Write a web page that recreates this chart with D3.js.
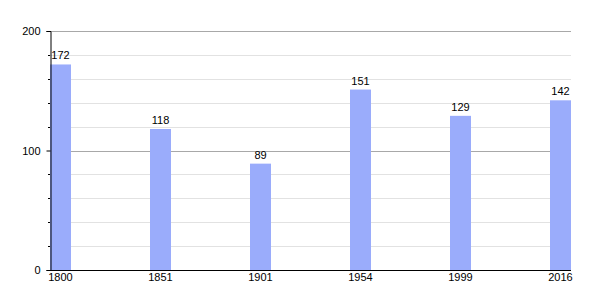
<!DOCTYPE html>
<html>
<head>
<meta charset="utf-8">
<script src="https://cdn.jsdelivr.net/npm/d3@7"></script>
<style>
  body { margin: 0; background: #fff; }
  text { font-family: "Liberation Sans", Arial, sans-serif; font-size: 11px; fill: #000; }
</style>
</head>
<body>
<svg id="chart" width="600" height="300"></svg>
<script>
// Population by census year
const years = ["1800", "1851", "1901", "1954", "1999", "2016"];
const population = [172, 118, 89, 151, 129, 142];
const majorTicks = [0, 100, 200];
const minorTicks = [20, 40, 60, 80, 120, 140, 160, 180];

const plotLeft = 50, plotRight = 571, plotTop = 31, plotBottom = 270;
const barWidth = 21;

const svg = d3.select("#chart");

const x = d3.scalePoint()
  .domain(years)
  .range([plotLeft, plotRight - barWidth]);

const y = d3.scaleLinear()
  .domain([0, 200])
  .range([plotBottom, plotTop]);

// Minor gridlines
svg.append("g")
  .selectAll("line")
  .data(minorTicks)
  .join("line")
  .attr("x1", plotLeft).attr("x2", plotRight)
  .attr("y1", d => Math.round(y(d)) + 0.5)
  .attr("y2", d => Math.round(y(d)) + 0.5)
  .attr("stroke", "#e2e2e2");

// Major gridlines
svg.append("g")
  .selectAll("line")
  .data(majorTicks.filter(d => d > 0))
  .join("line")
  .attr("x1", plotLeft).attr("x2", plotRight)
  .attr("y1", d => Math.round(y(d)) + 0.5)
  .attr("y2", d => Math.round(y(d)) + 0.5)
  .attr("stroke", "#a8a8a8");

// Bars
svg.append("g")
  .selectAll("rect")
  .data(years)
  .join("rect")
  .attr("x", d => x(d))
  .attr("width", barWidth)
  .attr("y", (d, i) => y(population[i]))
  .attr("height", (d, i) => plotBottom - y(population[i]))
  .attr("fill", "#9aacfb");

// Value labels
svg.append("g")
  .selectAll("text")
  .data(years)
  .join("text")
  .attr("x", d => x(d) + barWidth / 2)
  .attr("y", (d, i) => y(population[i]) - 5)
  .attr("text-anchor", "middle")
  .text((d, i) => population[i]);

// Y axis: major ticks with labels, minor ticks without
const yAxis = svg.append("g")
  .attr("transform", `translate(${plotLeft + 0.5},0)`)
  .call(d3.axisLeft(y).tickValues(majorTicks).tickSize(4).tickPadding(6));
yAxis.select(".domain").attr("stroke", "#000");
yAxis.selectAll(".tick line").attr("stroke", "#000");
yAxis.selectAll(".tick text")
  .attr("font-family", "Liberation Sans, Arial, sans-serif")
  .attr("font-size", 11)
  .attr("fill", "#000");

svg.append("g")
  .selectAll("line")
  .data(minorTicks)
  .join("line")
  .attr("x1", plotLeft - 2).attr("x2", plotLeft)
  .attr("y1", d => Math.round(y(d)) + 0.5)
  .attr("y2", d => Math.round(y(d)) + 0.5)
  .attr("stroke", "#000");

// X axis
svg.append("line")
  .attr("x1", plotLeft).attr("x2", plotRight)
  .attr("y1", plotBottom + 0.5).attr("y2", plotBottom + 0.5)
  .attr("stroke", "#000");

svg.append("g")
  .selectAll("text")
  .data(years)
  .join("text")
  .attr("x", d => x(d) + barWidth / 2)
  .attr("y", plotBottom + 11)
  .attr("text-anchor", "middle")
  .text(d => d);
</script>
</body>
</html>
